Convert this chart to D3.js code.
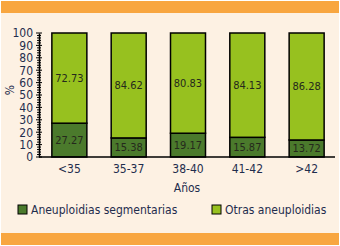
<!DOCTYPE html>
<html>
<head>
<meta charset="utf-8">
<script src="https://cdn.jsdelivr.net/npm/d3@7"></script>
<style>
  body { margin: 0; background: #fff; }
  text { font-family: "DejaVu Sans Condensed", "DejaVu Sans", sans-serif; }
</style>
</head>
<body>
<div id="chart"></div>
<script>
const categories = ["<35", "35-37", "38-40", "41-42", ">42"];
const segmentarias = [27.27, 15.38, 19.17, 15.87, 13.72];
const otras = [72.73, 84.62, 80.83, 84.13, 86.28];
const seriesNames = ["Aneuploidias segmentarias", "Otras aneuploidias"];
const colors = ["#4b7a2c", "#97c11f"];

const width = 340, height = 246;
const textColor = "#1f2d4d";

const svg = d3.select("#chart").append("svg")
  .attr("width", width)
  .attr("height", height);

svg.append("rect").attr("x", 1).attr("y", 1).attr("width", 338).attr("height", 244).attr("fill", "#fdf1e3");
svg.append("rect").attr("x", 1).attr("y", 1).attr("width", 338).attr("height", 12).attr("fill", "#f8a640");
svg.append("rect").attr("x", 1).attr("y", 233).attr("width", 338).attr("height", 12).attr("fill", "#f8a640");

const x = d3.scaleBand().domain(categories).range([40, 336]).paddingInner(0.41).paddingOuter(0.2);
const y = d3.scaleLinear().domain([0, 100]).range([157, 33]);

const stackData = categories.map((c, i) => ({ cat: c, s: segmentarias[i], o: otras[i] }));
const stack = d3.stack().keys(["s", "o"])(stackData);

svg.append("g").selectAll("g")
  .data(stack)
  .join("g")
  .attr("fill", (d, i) => colors[i])
  .selectAll("rect")
  .data(d => d)
  .join("rect")
  .attr("x", d => x(d.data.cat))
  .attr("y", d => y(d[1]))
  .attr("width", x.bandwidth())
  .attr("height", d => y(d[0]) - y(d[1]))
  .attr("stroke", "#000")
  .attr("stroke-width", 1.5);

// value labels
svg.append("g").selectAll("g")
  .data(stack)
  .join("g")
  .selectAll("text")
  .data(d => d)
  .join("text")
  .attr("x", d => x(d.data.cat) + x.bandwidth() / 2)
  .attr("y", d => (y(d[0]) + y(d[1])) / 2 + 4)
  .attr("text-anchor", "middle")
  .attr("font-size", 11)
  .attr("fill", "#25291c")
  .text(d => (d[1] - d[0]).toFixed(2));

// y axis
const yAxis = svg.append("g")
  .attr("transform", "translate(39,0)")
  .call(d3.axisLeft(y).tickValues(d3.range(0, 101, 10)).tickSize(0).tickPadding(6));
yAxis.select(".domain").attr("stroke", "#000").attr("stroke-width", 1.5);
yAxis.selectAll("text").attr("font-size", 12).attr("fill", textColor);

svg.append("g")
  .selectAll("line")
  .data(d3.range(0, 101, 2))
  .join("line")
  .attr("x1", d => d % 10 === 0 ? 36 : 37)
  .attr("x2", d => d % 10 === 0 ? 42 : 41)
  .attr("y1", d => y(d))
  .attr("y2", d => y(d))
  .attr("stroke", "#000")
  .attr("stroke-width", 1);

// x axis
const xAxis = svg.append("g")
  .attr("transform", "translate(0,157)")
  .call(d3.axisBottom(x).tickSize(0).tickPadding(7));
xAxis.select(".domain").remove();
xAxis.selectAll("text").attr("font-size", 12).attr("fill", textColor);
svg.append("line").attr("x1", 39).attr("x2", 335).attr("y1", 157).attr("y2", 157)
  .attr("stroke", "#000").attr("stroke-width", 1.5);

svg.append("text")
  .attr("x", 187).attr("y", 192)
  .attr("text-anchor", "middle")
  .attr("font-size", 12)
  .attr("fill", textColor)
  .text("Años");

svg.append("text")
  .attr("transform", "translate(14,90) rotate(-90)")
  .attr("text-anchor", "middle")
  .attr("font-size", 12)
  .attr("fill", textColor)
  .text("%");

// legend
const legendX = [18, 212];
const legend = svg.append("g").selectAll("g")
  .data(seriesNames)
  .join("g")
  .attr("transform", (d, i) => `translate(${legendX[i]},205)`);
legend.append("rect")
  .attr("width", 9).attr("height", 9)
  .attr("fill", (d, i) => colors[i])
  .attr("stroke", "#000").attr("stroke-width", 1);
legend.append("text")
  .attr("x", 13).attr("y", 9)
  .attr("font-size", 12)
  .attr("fill", textColor)
  .text(d => d);
</script>
</body>
</html>
